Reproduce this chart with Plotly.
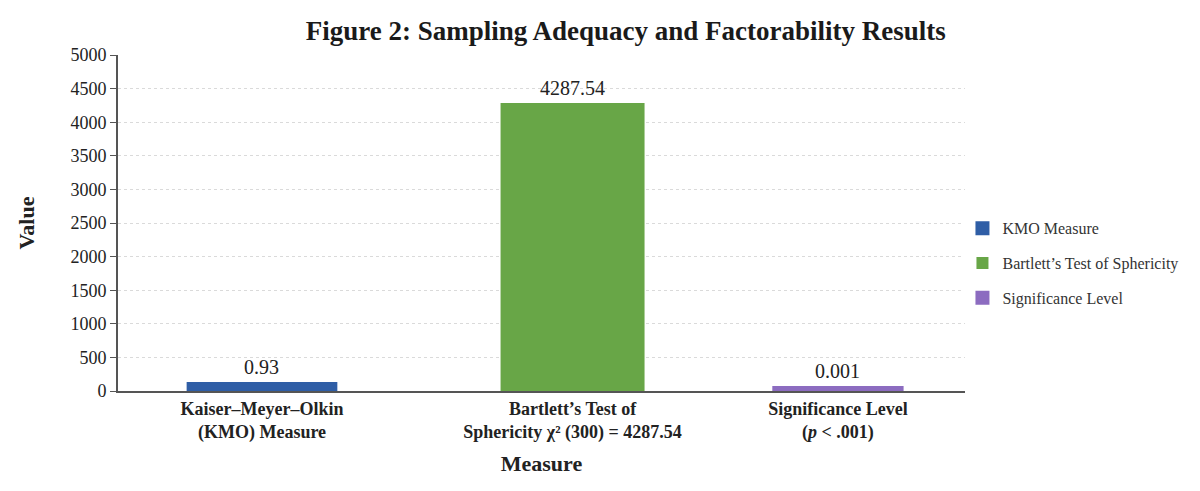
import plotly.graph_objects as go

# Chart data
measures = ["KMO Measure", "Bartlett\u2019s Test of Sphericity", "Significance Level"]
tick_labels = [
    "<b>Kaiser\u2013Meyer\u2013Olkin<br>(KMO) Measure</b>",
    "<b>Bartlett\u2019s Test of<br>Sphericity \u03c7\u00b2 (300) = 4287.54</b>",
    "<b>Significance Level<br>(<i>p</i> < .001)</b>",
]
values = [0.93, 4287.54, 0.001]
value_labels = ["0.93", "4287.54", "0.001"]
y_ticks = [0, 500, 1000, 1500, 2000, 2500, 3000, 3500, 4000, 4500, 5000]

# Styling / layout
colors = ["#2f5ea6", "#68a647", "#8c6cc0"]
slot_x = [0.01, 1.11, 2.05]          # horizontal placement of each bar
bar_widths = [0.47, 0.51, 0.465]
outline_widths = [18, 0, 10]          # keeps tiny values visible on the baseline
SERIF = "Liberation Serif, Times New Roman, serif"

fig = go.Figure()
for i in range(len(measures)):
    fig.add_trace(go.Bar(
        x=[slot_x[i]],
        y=[values[i]],
        name=measures[i],
        legendgroup=measures[i],
        width=bar_widths[i],
        marker=dict(color=colors[i],
                    line=dict(color=colors[i], width=outline_widths[i])),
        showlegend=True,
    ))
    fig.add_annotation(
        x=slot_x[i], y=values[i], text=value_labels[i],
        showarrow=False, yanchor="bottom",
        yshift=2 + outline_widths[i] / 2,
        font=dict(family=SERIF, size=20, color="#222222"),
    )

fig.update_layout(
    width=1200, height=491,
    margin=dict(l=118, r=235, t=55, b=100, autoexpand=False),
    paper_bgcolor="white", plot_bgcolor="white",
    font=dict(family=SERIF, color="#222222"),
    title=dict(text="<b>Figure 2: Sampling Adequacy and Factorability Results</b>",
               x=0.5215, xanchor="center", y=0.938, yanchor="middle",
               font=dict(family=SERIF, size=27, color="#1a1a1a")),
    bargap=0.2,
    legend=dict(x=0.997, xanchor="left", y=0.535, yanchor="top",
                font=dict(family=SERIF, size=16, color="#333333"),
                tracegroupgap=11, itemsizing="constant"),
)

fig.update_xaxes(
    range=[-0.5, 2.5],
    tickmode="array", tickvals=slot_x, ticktext=tick_labels,
    tickfont=dict(family=SERIF, size=18, color="#222222"),
    showline=True, linecolor="#555555", linewidth=2,
    showgrid=False, zeroline=False, ticks="",
    title=dict(text="<b>Measure</b>", font=dict(family=SERIF, size=22, color="#222222"),
               standoff=14),
)
fig.update_yaxes(
    range=[0, 5000],
    tickmode="array", tickvals=y_ticks,
    tickfont=dict(family=SERIF, size=18, color="#222222"),
    showline=True, linecolor="#555555", linewidth=2,
    ticks="outside", ticklen=6, tickcolor="#555555",
    showgrid=True, gridcolor="#dadada", griddash="dot", gridwidth=1,
    zeroline=False,
    title=dict(text="<b>Value</b>", font=dict(family=SERIF, size=22, color="#222222"),
               standoff=30),
)

fig.write_html("out.html")
